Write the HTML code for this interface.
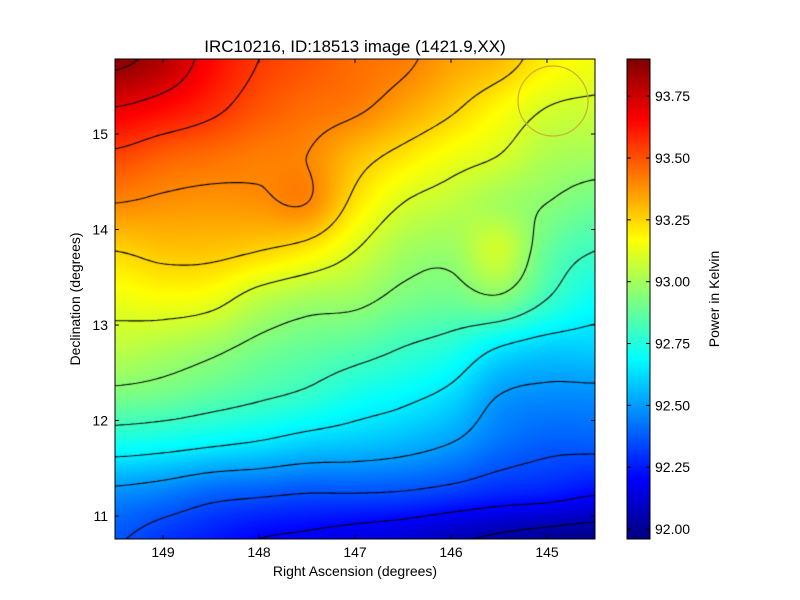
<!DOCTYPE html>
<html><head><meta charset="utf-8"><style>
body{margin:0;background:#fff;width:800px;height:600px;position:relative;overflow:hidden;font-family:"Liberation Sans",sans-serif}
canvas{position:absolute}
svg{position:absolute;left:0;top:0}
text{font-family:"Liberation Sans",sans-serif;fill:#000}
</style></head><body>
<canvas id="hm" width="480" height="480" style="left:115px;top:59px"></canvas>
<canvas id="cb" width="23" height="480" style="left:627px;top:59px"></canvas>
<svg id="ov" width="800" height="600"></svg>
<script>
// Data arrays
const raCols = [149.5,149.0,148.5,148.0,147.5,147.0,146.5,146.0,145.5,145.0,144.5];
const decRows = [15.78,15.28,14.78,14.28,13.78,13.28,12.78,12.28,11.78,11.28,10.76];
const row0 = [93.88,93.8,93.65,93.55,93.5,93.45,93.42,93.35,93.3,93.2,93.15];
const row1 = [93.7,93.65,93.58,93.5,93.45,93.42,93.35,93.27,93.18,93.1,93.08];
const row2 = [93.53,93.48,93.45,93.42,93.4,93.3,93.22,93.15,93.1,93.02,93.0];
const row3 = [93.4,93.38,93.37,93.38,93.4,93.22,93.1,93.05,93.0,92.95,92.9];
const row4 = [93.25,93.28,93.28,93.25,93.2,93.1,93.0,92.98,93.08,92.88,92.8];
const row5 = [93.14,93.16,93.14,93.05,93.0,92.98,92.92,92.9,92.93,92.8,92.7];
const row6 = [93.05,93.02,92.98,92.92,92.88,92.85,92.8,92.75,92.65,92.6,92.6];
const row7 = [92.92,92.9,92.86,92.82,92.78,92.72,92.68,92.62,92.5,92.47,92.47];
const row8 = [92.72,92.7,92.67,92.64,92.6,92.58,92.55,92.5,92.42,92.38,92.38];
const row9 = [92.48,92.45,92.4,92.38,92.36,92.36,92.35,92.32,92.28,92.26,92.22];
const row10 = [92.36,92.3,92.25,92.2,92.18,92.15,92.12,92.07,92.03,92.0,91.98];
const grid = [row0,row1,row2,row3,row4,row5,row6,row7,row8,row9,row10];
const xTicks = [149,148,147,146,145];
const yTicks = [11,12,13,14,15];
const cbTicks = [92.00,92.25,92.50,92.75,93.00,93.25,93.50,93.75];
const contourLevels = [92.05,92.2,92.35,92.5,92.65,92.8,92.95,93.1,93.25,93.4,93.55,93.7,93.85];

const PX0=115,PY0=59,W=480,H=480,RA0=149.5,RA1=144.5,DEC0=15.785,DEC1=10.76;
const VMIN=91.96,VMAX=93.9;
const xs=ra=>PX0+(RA0-ra)/(RA0-RA1)*W;
const ys=d=>PY0+(DEC0-d)/(DEC0-DEC1)*H;
const vy=v=>59+(VMAX-v)/(VMAX-VMIN)*480;
function jet(t){t=Math.max(0,Math.min(1,t));const c=x=>Math.round(255*Math.max(0,Math.min(1,1.5-Math.abs(x))));return [c(4*t-3),c(4*t-2),c(4*t-1)];}
const NC=raCols.length,NR=decRows.length;
function cr(p0,p1,p2,p3,t){return p1+0.5*t*(p2-p0+t*(2*p0-5*p1+4*p2-p3+t*(3*(p1-p2)+p3-p0)));}
const cl=(v,n)=>Math.max(0,Math.min(n-1,v));
function rowAt(j,i,fx){const r=grid[cl(j,NR)];return cr(r[cl(i-1,NC)],r[cl(i,NC)],r[cl(i+1,NC)],r[cl(i+2,NC)],fx);}
function val(px,py){
  const gx=px/W*(NC-1), gy=py/H*(NR-1);
  const i=Math.min(Math.floor(gx),NC-2), j=Math.min(Math.floor(gy),NR-2);
  const fx=gx-i, fy=gy-j;
  return cr(rowAt(j-1,i,fx),rowAt(j,i,fx),rowAt(j+1,i,fx),rowAt(j+2,i,fx),fy);
}
const hm=document.getElementById('hm').getContext('2d');
const img=hm.createImageData(W,H);
for(let y=0;y<H;y++)for(let x=0;x<W;x++){const c=jet((val(x,y)-VMIN)/(VMAX-VMIN));const k=(y*W+x)*4;img.data[k]=c[0];img.data[k+1]=c[1];img.data[k+2]=c[2];img.data[k+3]=255;}
hm.putImageData(img,0,0);
const S=3,N=W/S;
const F=[];for(let j=0;j<=N;j++){F.push([]);for(let i=0;i<=N;i++)F[j].push(val(Math.min(i*S,W-0.01),Math.min(j*S,H-0.01)));}
hm.strokeStyle='#000';hm.lineWidth=1.1;hm.beginPath();
for(const L of contourLevels){
  for(let j=0;j<N;j++)for(let i=0;i<N;i++){
    const v=[F[j][i],F[j][i+1],F[j+1][i+1],F[j+1][i]];
    const p=[[i,j],[i+1,j],[i+1,j+1],[i,j+1]];
    const pts=[];
    for(let e=0;e<4;e++){const a=v[e],b=v[(e+1)%4];if((a<L)!==(b<L)){const t=(L-a)/(b-a);const P=p[e],Q=p[(e+1)%4];pts.push([(P[0]+t*(Q[0]-P[0]))*S,(P[1]+t*(Q[1]-P[1]))*S]);}}
    for(let k=0;k+1<pts.length;k+=2){hm.moveTo(pts[k][0],pts[k][1]);hm.lineTo(pts[k+1][0],pts[k+1][1]);}
  }
}
hm.stroke();
const cb=document.getElementById('cb').getContext('2d');
for(let y=0;y<480;y++){const c=jet(1-y/479);cb.fillStyle=`rgb(${c})`;cb.fillRect(0,y,23,1);}
const ov=document.getElementById('ov');const NS='http://www.w3.org/2000/svg';
function el(t,a,txt){const e=document.createElementNS(NS,t);for(const k in a)e.setAttribute(k,a[k]);if(txt!=null)e.textContent=txt;ov.appendChild(e);return e;}
let e;
e=el('circle',{cx:553,cy:101,r:35,fill:'none',stroke:'#c8b030','stroke-width':1.2});


e=el('rect',{x:115,y:59,width:480,height:480,fill:'none',stroke:'#000'});


e=el('rect',{x:627,y:59,width:23,height:480,fill:'none',stroke:'#000'});


for(const t of xTicks){const x=xs(t);
  el('line',{x1:x,x2:x,y1:539,y2:535,stroke:'#000'});el('line',{x1:x,x2:x,y1:59,y2:63,stroke:'#000'});
  e=el('text',{x:x,y:557,'font-size':14,'text-anchor':'middle'},String(t));
  
  }
for(const t of yTicks){const y=ys(t);
  el('line',{x1:115,x2:119,y1:y,y2:y,stroke:'#000'});el('line',{x1:595,x2:591,y1:y,y2:y,stroke:'#000'});
  e=el('text',{x:108,y:y+5,'font-size':14,'text-anchor':'end'},String(t));
  
  }
for(const t of cbTicks){const y=vy(t);
  el('line',{x1:646,x2:650,y1:y,y2:y,stroke:'#000'});el('line',{x1:627,x2:631,y1:y,y2:y,stroke:'#000'});
  e=el('text',{x:655,y:y+5,'font-size':14},t.toFixed(2));
  
  }
e=el('text',{x:355,y:52,'font-size':17,'text-anchor':'middle'},'IRC10216, ID:18513 image (1421.9,XX)');


e=el('text',{x:355,y:576,'font-size':14,'text-anchor':'middle'},'Right Ascension (degrees)');


e=el('text',{x:0,y:0,'font-size':14,'text-anchor':'middle',transform:'translate(80,299) rotate(-90)'},'Declination (degrees)');


e=el('text',{x:0,y:0,'font-size':14,'text-anchor':'middle',transform:'translate(719,299) rotate(-90)'},'Power in Kelvin');


</script>
</body></html>
